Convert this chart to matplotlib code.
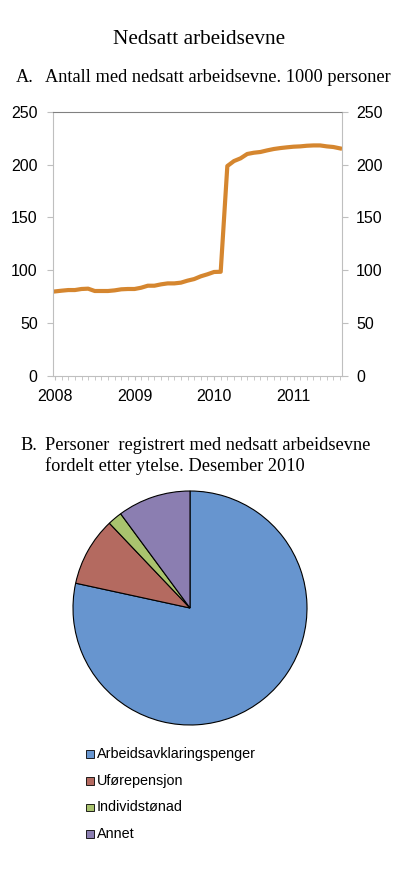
import numpy as np
import matplotlib
matplotlib.use("Agg")
import matplotlib.pyplot as plt
from matplotlib.patches import Rectangle

# panel A: monthly values, jan 2008 - aug 2011 (1000 personer)
values = [80.0, 80.7, 81.3, 81.3, 82.3, 82.6, 80.4, 80.4, 80.4, 81.0, 82.0, 82.3,
          82.3, 83.5, 85.4, 85.4, 86.7, 87.6, 87.6, 88.3, 90.2, 91.7, 94.3, 96.2,
          98.4, 98.6, 198.6, 203.3, 205.9, 210.0, 211.2, 211.9, 213.4, 214.7, 215.6, 216.3,
          216.9, 217.2, 217.8, 218.1, 218.1, 217.2, 216.6, 215.3]
years = ['2008', '2009', '2010', '2011']
yticks = [0, 50, 100, 150, 200, 250]

# panel B: share by ytelse, desember 2010 (prosent)
categories = ['Arbeidsavklaringspenger', 'Uførepensjon', 'Individstønad', 'Annet']
shares = [78.4, 9.5, 2.0, 10.1]
colors = ['#6795cf', '#b46a60', '#a9c36e', '#8b7eb1']

W, H = 400, 872
fig = plt.figure(figsize=(W/100, H/100), dpi=100)
sans = ['Liberation Sans', 'DejaVu Sans']
serif = ['Liberation Serif', 'DejaVu Serif']

def fx(px): return px / W
def fy(py): return 1 - py / H

fig.text(fx(199), fy(39), 'Nedsatt arbeidsevne', family=serif, size=15.3, ha='center', va='center')
fig.text(fx(16), fy(78), 'A.', family=serif, size=13.2, ha='left', va='center')
fig.text(fx(45), fy(78), 'Antall med nedsatt arbeidsevne. 1000 personer', family=serif, size=13.2, ha='left', va='center')

# line chart
ax = fig.add_axes([fx(53), fy(376), fx(342) - fx(53), fy(111.7) - fy(376)])
x = np.arange(len(values))
ax.plot(x, values, color='#d5862f', lw=3, solid_joinstyle='round')
ax.set_xlim(-0.3, len(values) - 1 + 0.3)
ax.set_ylim(0, 250)
ax.set_yticks(yticks)
ax.set_xticks(np.arange(0, len(values), 12))
ax.set_xticklabels(years)
ax.set_xticks(x, minor=True)
for s in ['left', 'right', 'bottom']:
    ax.spines[s].set_color('#bfbfbf')
ax.spines['top'].set_color('#808080')
ax.tick_params(axis='y', direction='out', length=4, color='#bfbfbf', labelsize=11.5, pad=7)
ax.tick_params(axis='x', which='both', direction='out', length=3, color='#bfbfbf', labelsize=11.5, pad=6)
ax2 = ax.twinx()
ax2.set_ylim(0, 250)
ax2.set_yticks(yticks)
for s in ax2.spines.values():
    s.set_visible(False)
ax2.tick_params(axis='y', direction='out', length=4, color='#bfbfbf', labelsize=11.5, pad=6)
for lab in ax.get_xticklabels() + ax.get_yticklabels() + ax2.get_yticklabels():
    lab.set_family(sans)

fig.text(fx(20), fy(445), 'B.', family=serif, size=13.2, ha='left', va='center')
fig.text(fx(45), fy(445), 'Personer  registrert med nedsatt arbeidsevne', family=serif, size=13.2, ha='left', va='center')
fig.text(fx(45), fy(466), 'fordelt etter ytelse. Desember 2010', family=serif, size=13.2, ha='left', va='center')

# pie chart
r = 117
cx, cy = 190, 608
pax = fig.add_axes([fx(cx - r), fy(cy + r), 2 * r / W, 2 * r / H])
pax.pie(shares, colors=colors, startangle=90, counterclock=False,
        wedgeprops=dict(edgecolor='black', linewidth=0.8))
pax.set_xlim(-1, 1)
pax.set_ylim(-1, 1)

# legend
for i, (cat, col) in enumerate(zip(categories, colors)):
    yy = 754 + i * 26.7
    fig.patches.append(Rectangle((fx(86), fy(yy + 3.8)), 7.5 / W, 7.5 / H, transform=fig.transFigure,
                                 facecolor=col, edgecolor='black', linewidth=0.6))
    fig.text(fx(97), fy(yy), cat, family=sans, size=10.4, ha='left', va='center')

fig.savefig('out.png', dpi=100)
